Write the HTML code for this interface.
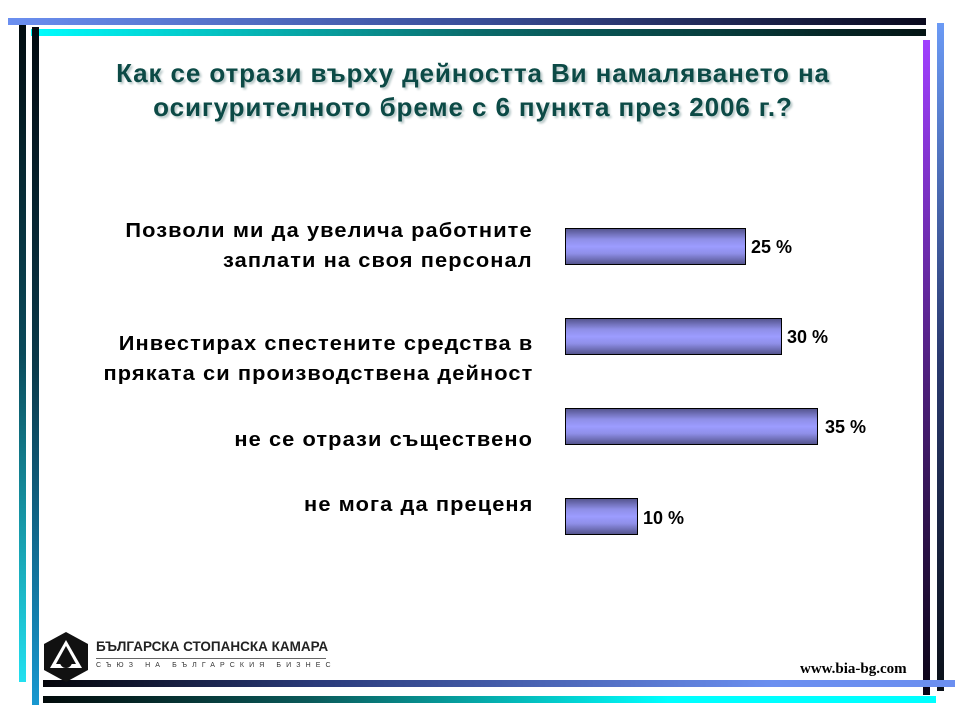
<!DOCTYPE html>
<html><head><meta charset="utf-8"><style>
body{margin:0;width:960px;height:720px;position:relative;background:#fff;overflow:hidden;font-family:"Liberation Sans",sans-serif}
.a{position:absolute}
.t{position:absolute;left:0;width:946px;text-align:center;font-weight:bold;font-size:26px;letter-spacing:0.9px;color:#0c4a46;text-shadow:2px 2px 2px #b8c8c8;white-space:nowrap}
.l{position:absolute;right:427px;text-align:right;font-weight:bold;font-size:20px;letter-spacing:1px;line-height:30px;color:#000;white-space:nowrap;transform:scaleX(1.09);transform-origin:right center}
.b{position:absolute;left:565px;height:37px;border:1px solid #000;box-sizing:border-box;background:linear-gradient(#55558f,#8f8fe8 30%,#9c9cff 50%,#8f8fe8 70%,#55558f)}
.v{position:absolute;font-weight:bold;font-size:18px;white-space:nowrap}
</style></head><body>
<div class="a" style="left:8px;top:18px;width:918px;height:7px;background:linear-gradient(90deg,#6b8ff0,#3a4f9a 50%,#0a0a1e)"></div>
<div class="a" style="left:31px;top:29px;width:895px;height:7px;background:linear-gradient(90deg,#00ffff,#0a6a6a 50%,#041414)"></div>
<div class="a" style="left:19px;top:25px;width:7px;height:657px;background:linear-gradient(#020c10,#0a4a5a 50%,#22e0f0)"></div>
<div class="a" style="left:32px;top:27px;width:7px;height:678px;background:linear-gradient(#020a10,#0a3a4a 50%,#1898d0)"></div>
<div class="a" style="left:923px;top:40px;width:7px;height:655px;background:linear-gradient(#a040ff,#502080 50%,#0a0416)"></div>
<div class="a" style="left:937px;top:23px;width:7px;height:668px;background:linear-gradient(#6b9af5,#2a3a70 50%,#0a1018)"></div>
<div class="a" style="left:43px;top:680px;width:912px;height:7px;background:linear-gradient(90deg,#05050a,#2a3a7a 30%,#6b8ff0 80%,#6b8ff0)"></div>
<div class="a" style="left:43px;top:696px;width:893px;height:7px;background:linear-gradient(90deg,#020a0a,#0a5a5a 30%,#00ffff 70%,#00ffff)"></div>

<div class="t" style="top:58px">Как се отрази върху дейността Ви намаляването на</div>
<div class="t" style="top:92px">осигурителното бреме с 6 пункта през 2006 г.?</div>

<div class="l" style="top:216px">Позволи ми да увеличa работните<br>заплати на своя персонал</div>
<div class="l" style="top:329px">Инвестирах спестените средства в<br>пряката си производствена дейност</div>
<div class="l" style="top:425px">не се отрази съществено</div>
<div class="l" style="top:490px">не мога да преценя</div>

<div class="b" style="top:228px;width:181px"></div><div class="v" style="left:751px;top:237px">25 %</div>
<div class="b" style="top:318px;width:217px"></div><div class="v" style="left:787px;top:327px">30 %</div>
<div class="b" style="top:408px;width:253px"></div><div class="v" style="left:825px;top:417px">35 %</div>
<div class="b" style="top:498px;width:73px"></div><div class="v" style="left:643px;top:508px">10 %</div>

<svg class="a" style="left:42px;top:632px" width="48" height="50" viewBox="0 0 48 50">
<polygon points="24,0 46,12 46,38 24,50 2,38 2,12" fill="#111"/>
<path d="M24,8 L40,36 L8,36 Z" fill="#fff"/>
<circle cx="24" cy="30" r="6" fill="#111"/>
<path d="M24,14 L14,32 L34,32 Z" fill="#111"/>
</svg>
<div class="a" style="left:96px;top:639px;font-size:13.5px;font-weight:bold;color:#222;white-space:nowrap">БЪЛГАРСКА СТОПАНСКА КАМАРА</div>
<div class="a" style="left:96px;top:658px;width:230px;height:1px;background:#666"></div>
<div class="a" style="left:96px;top:662px;font-size:7px;color:#333;letter-spacing:5.1px;white-space:nowrap">СЪЮЗ НА БЪЛГАРСКИЯ БИЗНЕС</div>
<div class="a" style="left:800px;top:661px;font-family:'Liberation Serif',serif;font-weight:bold;font-size:15px">www.bia-bg.com</div>
</body></html>
